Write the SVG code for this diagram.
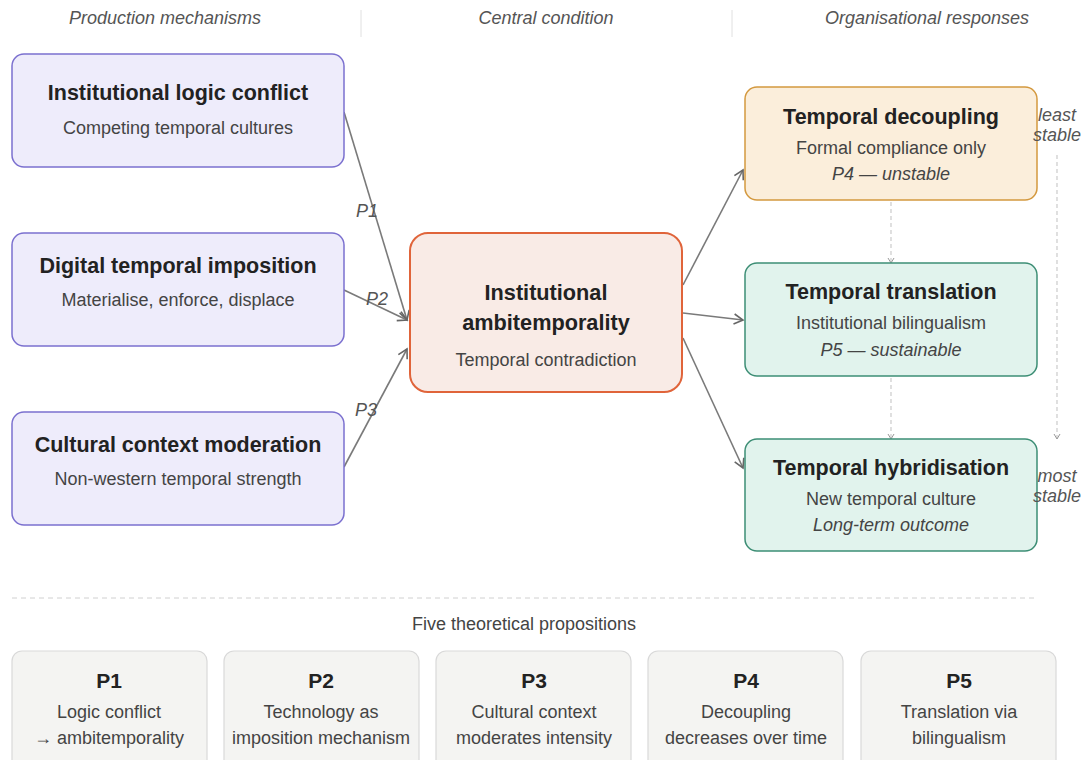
<svg xmlns="http://www.w3.org/2000/svg" width="1090" height="760" viewBox="0 0 1090 760">
<defs>
<marker id="arr" viewBox="0 0 12 12" refX="10" refY="6" markerWidth="12" markerHeight="12" markerUnits="userSpaceOnUse" orient="auto">
<path d="M1,1 L10,6 L1,11" fill="none" stroke="#666" stroke-width="1.6"/>
</marker>
<marker id="arrs" viewBox="0 0 8 8" refX="6" refY="4" markerWidth="8" markerHeight="8" markerUnits="userSpaceOnUse" orient="auto">
<path d="M1,1 L6,4 L1,7" fill="none" stroke="#999" stroke-width="1"/>
</marker>
</defs>
<style>
text{font-family:"Liberation Sans",Arial,sans-serif;text-anchor:middle}
.hd{font-size:18px;font-style:italic;fill:#555}
.t{font-size:21.5px;font-weight:bold;fill:#222}
.tc{font-size:21.7px;font-weight:bold;fill:#222}
.s{font-size:18px;fill:#444}
.i{font-size:18px;font-style:italic;fill:#444}
.lbl{font-size:18px;font-style:italic;fill:#555}
.prod{fill:#eeecfb;stroke:#7b70cf;stroke-width:1.5}
.cent{fill:#f9ebe6;stroke:#e0643a;stroke-width:2}
.dec{fill:#fbeedb;stroke:#d4993f;stroke-width:1.5}
.grn{fill:#e1f3ed;stroke:#3d8e75;stroke-width:1.5}
.pb{fill:#f4f4f2;stroke:#d9d9d9;stroke-width:1.2}
.pt{font-size:21px;font-weight:bold;fill:#222}
.ps{font-size:18px;fill:#444}
.c{fill:none;stroke:#7a7a7a;stroke-width:1.6;marker-end:url(#arr)}
.d{fill:none;stroke:#cfcfcf;stroke-width:1.3;stroke-dasharray:4 3;marker-end:url(#arrs)}
</style>
<rect width="1090" height="760" fill="#ffffff"/>
<g id="headers">
<text class="hd" x="165" y="24">Production mechanisms</text>
<text class="hd" x="546" y="24">Central condition</text>
<text class="hd" x="927" y="24">Organisational responses</text>
<line x1="361" y1="10" x2="361" y2="37" stroke="#e0e0e0" stroke-width="1"/>
<line x1="732" y1="10" x2="732" y2="37" stroke="#e0e0e0" stroke-width="1"/>
</g>
<g id="connectors">
<line class="c" x1="344" y1="112" x2="407" y2="320"/>
<line class="c" x1="344" y1="290" x2="407" y2="320"/>
<line class="c" x1="344" y1="467" x2="407" y2="349"/>
<line class="c" x1="683" y1="285" x2="743" y2="170"/>
<line class="c" x1="683" y1="313" x2="743" y2="320"/>
<line class="c" x1="683" y1="338" x2="743" y2="468"/>
<line class="d" x1="891" y1="202" x2="891" y2="263"/>
<line class="d" x1="891" y1="378" x2="891" y2="439"/>
<line class="d" x1="1057" y1="155" x2="1057" y2="439"/>
<text class="lbl" x="367" y="217">P1</text>
<text class="lbl" x="377" y="305">P2</text>
<text class="lbl" x="366" y="416">P3</text>
</g>
<g id="n-logic">
<rect class="prod" x="12" y="54" width="332" height="113" rx="12"/>
<text class="t" x="178" y="100">Institutional logic conflict</text>
<text class="s" x="178" y="134">Competing temporal cultures</text>
</g>
<g id="n-digital">
<rect class="prod" x="12" y="233" width="332" height="113" rx="12"/>
<text class="t" x="178" y="273">Digital temporal imposition</text>
<text class="s" x="178" y="306">Materialise, enforce, displace</text>
</g>
<g id="n-cultural">
<rect class="prod" x="12" y="412" width="332" height="113" rx="12"/>
<text class="t" x="178" y="452">Cultural context moderation</text>
<text class="s" x="178" y="485">Non-western temporal strength</text>
</g>
<g id="n-central">
<rect class="cent" x="410" y="233" width="272" height="159" rx="18"/>
<text class="tc" x="546" y="300">Institutional</text>
<text class="tc" x="546" y="330">ambitemporality</text>
<text class="s" x="546" y="366">Temporal contradiction</text>
</g>
<g id="n-decoupling">
<rect class="dec" x="745" y="87" width="292" height="113" rx="12"/>
<text class="t" x="891" y="124">Temporal decoupling</text>
<text class="s" x="891" y="154">Formal compliance only</text>
<text class="i" x="891" y="180">P4 — unstable</text>
</g>
<g id="n-translation">
<rect class="grn" x="745" y="263" width="292" height="113" rx="12"/>
<text class="t" x="891" y="299">Temporal translation</text>
<text class="s" x="891" y="329">Institutional bilingualism</text>
<text class="i" x="891" y="356">P5 — sustainable</text>
</g>
<g id="n-hybrid">
<rect class="grn" x="745" y="439" width="292" height="112" rx="12"/>
<text class="t" x="891" y="475">Temporal hybridisation</text>
<text class="s" x="891" y="505">New temporal culture</text>
<text class="i" x="891" y="531">Long-term outcome</text>
</g>
<g id="stability">
<text class="lbl" x="1057" y="121">least</text>
<text class="lbl" x="1057" y="141">stable</text>
<text class="lbl" x="1057" y="482">most</text>
<text class="lbl" x="1057" y="502">stable</text>
</g>
<g id="propositions">
<line x1="12" y1="598" x2="1037" y2="598" stroke="#d0d0d0" stroke-width="1" stroke-dasharray="5 4"/>
<text class="s" x="524" y="630">Five theoretical propositions</text>
<g id="p1"><rect class="pb" x="12" y="651" width="195" height="130" rx="10"/>
<text class="pt" x="109" y="688">P1</text><text class="ps" x="109" y="718">Logic conflict</text><text class="ps" x="109" y="744">→ ambitemporality</text></g>
<g id="p2"><rect class="pb" x="224" y="651" width="195" height="130" rx="10"/>
<text class="pt" x="321" y="688">P2</text><text class="ps" x="321" y="718">Technology as</text><text class="ps" x="321" y="744">imposition mechanism</text></g>
<g id="p3"><rect class="pb" x="436" y="651" width="195" height="130" rx="10"/>
<text class="pt" x="534" y="688">P3</text><text class="ps" x="534" y="718">Cultural context</text><text class="ps" x="534" y="744">moderates intensity</text></g>
<g id="p4"><rect class="pb" x="648" y="651" width="195" height="130" rx="10"/>
<text class="pt" x="746" y="688">P4</text><text class="ps" x="746" y="718">Decoupling</text><text class="ps" x="746" y="744">decreases over time</text></g>
<g id="p5"><rect class="pb" x="861" y="651" width="195" height="130" rx="10"/>
<text class="pt" x="959" y="688">P5</text><text class="ps" x="959" y="718">Translation via</text><text class="ps" x="959" y="744">bilingualism</text></g>
</g>
</svg>
